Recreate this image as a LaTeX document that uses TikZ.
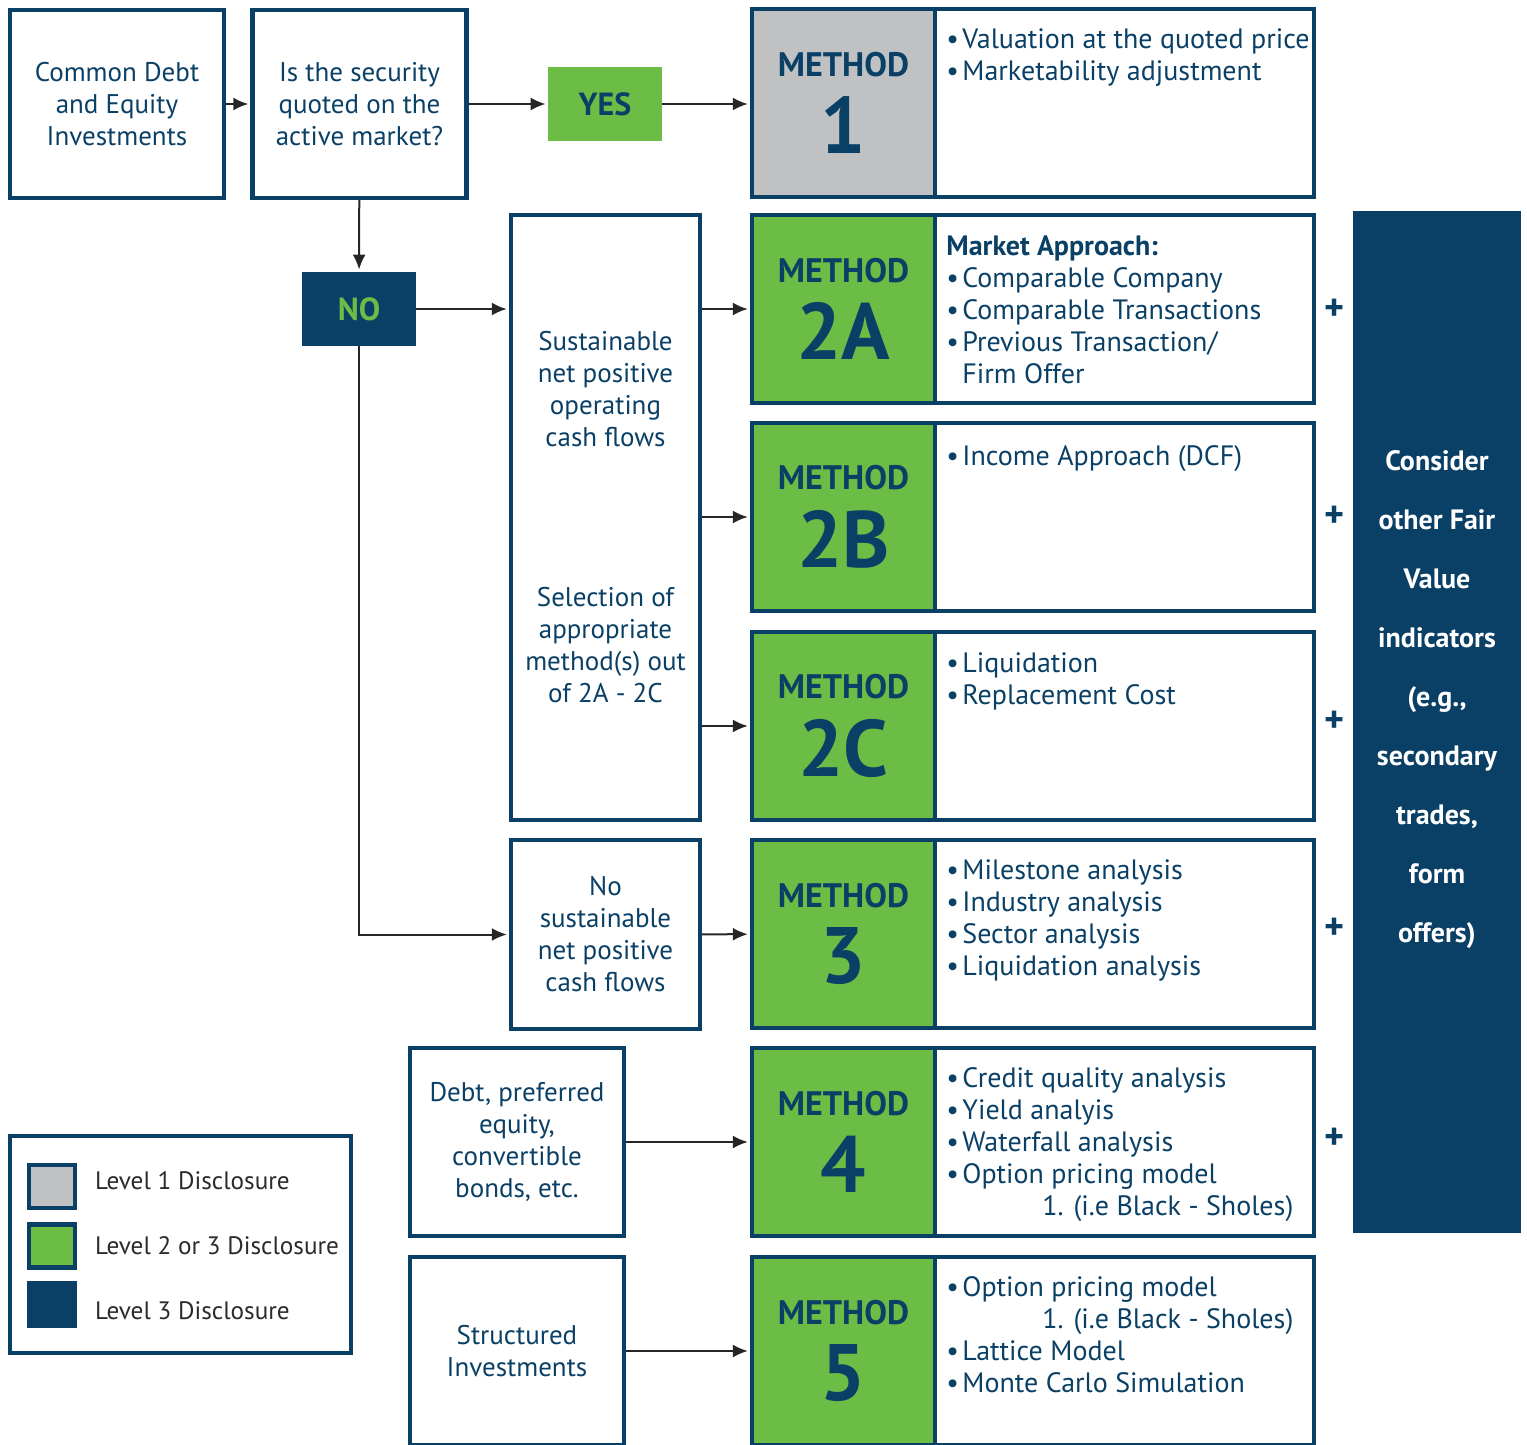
\documentclass[tikz,border=0pt]{standalone}
\usepackage{fontspec}
\setmainfont{PT Sans}
\usepackage{tikz}
\usetikzlibrary{arrows.meta}
\definecolor{navy}{HTML}{0B4066}
\definecolor{lgreen}{HTML}{6CBD45}
\definecolor{lgray}{HTML}{C0C1C3}
\definecolor{ink}{HTML}{2B2B2B}
\tikzstyle{frame}=[rectangle, draw=navy, line width=2.2pt, fill=white, inner sep=0pt, text=navy, align=center, minimum width=107pt, minimum height=94pt, font=\fontsize{13.5}{16}\selectfont]
\tikzstyle{method}=[rectangle, draw=navy, line width=2.2pt, inner sep=0pt, minimum width=91.5pt, minimum height=94pt, align=center, text=navy, font=\bfseries\fontsize{17}{20}\selectfont]
\tikzstyle{descbox}=[rectangle, draw=navy, line width=2.2pt, fill=white, minimum width=189.5pt, minimum height=94pt]
\tikzstyle{desc}=[anchor=north west, align=left, inner sep=0pt, text=navy, font=\fontsize{14}{16}\selectfont, execute at begin node=\strut]
\tikzstyle{tag}=[rectangle, minimum width=57pt, minimum height=37pt, font=\bfseries\fontsize{16}{18}\selectfont]
\tikzstyle{plus}=[text=navy, font=\bfseries\fontsize{19}{20}\selectfont]
\tikzstyle{swatch}=[rectangle, draw=navy, line width=2.2pt, minimum width=23pt, minimum height=21.5pt, inner sep=0pt]
\tikzstyle{legtext}=[anchor=west, text=ink, font=\fontsize{12.6}{16}\selectfont]
\tikzstyle{arr}=[-{Latex[length=7.5pt,width=6.5pt]}, line width=1pt, black!85, shorten >=1pt]
\newcommand{\bl}{\makebox[8pt][l]{•}}
\newcommand{\bignum}[1]{{\fontsize{40}{40}\selectfont #1}}

\begin{document}
\begin{tikzpicture}[x=0.5pt, y=-0.5pt]
    \path[use as bounding box] (0,0) rectangle (1527,1445);
    \clip (0,0) rectangle (1527,1445);
    \node[frame] (common) at (117, 104) {Common Debt\\and Equity\\Investments};
    \node[frame] (question) at (359.5, 104) {Is the security\\quoted on the\\active market?};
    \node[tag, fill=lgreen, text=navy] (yes) at (605, 104) {YES};
    \node[tag, fill=navy, text=lgreen] (no) at (359, 309) {NO};
    \node[frame, minimum width=94.5pt, minimum height=302.5pt] (sust) at (605.5, 517.5) {Sustainable\\net positive\\operating\\cash flows\\[64pt]Selection of\\appropriate\\method(s) out\\of 2A - 2C};
    \node[frame, minimum width=94.5pt, minimum height=94.5pt] (nosust) at (605.5, 934.5) {No\\sustainable\\net positive\\cash flows};
    \node[frame] (debt) at (517, 1142) {Debt, preferred\\equity,\\convertible\\bonds, etc.};
    \node[frame] (struct) at (517, 1351) {Structured\\Investments};

    \node[descbox] (d1)  at (1124.5, 103) {};
    \node[descbox] (d2a) at (1124.5, 309) {};
    \node[descbox] (d2b) at (1124.5, 517) {};
    \node[descbox] (d2c) at (1124.5, 726) {};
    \node[descbox] (d3)  at (1124.5, 934) {};
    \node[descbox] (d4)  at (1124.5, 1142) {};
    \node[descbox] (d5)  at (1124.5, 1351) {};
    \node[method, fill=lgray]  (m1)  at (843.5, 103)  {METHOD\\[9pt]\bignum{1}};
    \node[method, fill=lgreen] (m2a) at (843.5, 309)  {METHOD\\[9pt]\bignum{2A}};
    \node[method, fill=lgreen] (m2b) at (843.5, 517)  {METHOD\\[9pt]\bignum{2B}};
    \node[method, fill=lgreen] (m2c) at (843.5, 726)  {METHOD\\[9pt]\bignum{2C}};
    \node[method, fill=lgreen] (m3)  at (843.5, 934)  {METHOD\\[9pt]\bignum{3}};
    \node[method, fill=lgreen] (m4)  at (843.5, 1142) {METHOD\\[9pt]\bignum{4}};
    \node[method, fill=lgreen] (m5)  at (843.5, 1351) {METHOD\\[9pt]\bignum{5}};

    \node[desc] (t1)  at (946, 28.6)   {\bl Valuation at the quoted price\\\bl Marketability adjustment};
    \node[desc] (t2a) at (946, 235.6)  {\textbf{Market Approach:}\\\bl Comparable Company\\\bl Comparable Transactions\\\bl Previous Transaction/\\\hspace*{8pt}Firm Offer};
    \node[desc] (t2b) at (946, 442.6)  {\bl Income Approach (DCF)};
    \node[desc] (t2c) at (946, 652.6)  {\bl Liquidation\\\bl Replacement Cost};
    \node[desc] (t3)  at (946, 859.6)  {\bl Milestone analysis\\\bl Industry analysis\\\bl Sector analysis\\\bl Liquidation analysis};
    \node[desc] (t4)  at (946, 1067.6) {\bl Credit quality analysis\\\bl Yield analyis\\\bl Waterfall analysis\\\bl Option pricing model\\\hspace*{48pt}1. (i.e Black - Sholes)};
    \node[desc] (t5)  at (946, 1276.6) {\bl Option pricing model\\\hspace*{48pt}1. (i.e Black - Sholes)\\\bl Lattice Model\\\bl Monte Carlo Simulation};

    \node[plus] (p2a) at (1334, 310)  {+};
    \node[plus] (p2b) at (1334, 517)  {+};
    \node[plus] (p2c) at (1334, 722)  {+};
    \node[plus] (p3)  at (1334, 929)  {+};
    \node[plus] (p4)  at (1334, 1139) {+};

    \node[rectangle, fill=navy, minimum width=84pt, minimum height=511pt] (other) at (1437, 722) {};
    \node[text=white, align=center, font=\bfseries\fontsize{14}{29.5}\selectfont] (othertxt) at (1437, 700) {Consider\\other Fair\\Value\\indicators\\(e.g.,\\secondary\\trades,\\form\\offers)};

    \node[frame, minimum width=170.5pt, minimum height=108.5pt] (legend) at (180.5, 1244.5) {};
    \node[swatch, fill=lgray] (s1) at (52, 1186.5) {};
    \node[swatch, fill=lgreen] (s2) at (52, 1246) {};
    \node[rectangle, fill=navy, minimum width=25pt, minimum height=23.5pt] (s3) at (52, 1304.5) {};
    \node[legtext] (l1) at (88, 1181) {Level 1 Disclosure};
    \node[legtext] (l2) at (88, 1246) {Level 2 or 3 Disclosure};
    \node[legtext] (l3) at (88, 1311) {Level 3 Disclosure};

    \draw[arr] (common) -- (question);
    \draw[arr] (question) -- (yes);
    \draw[arr] (yes.east) -- (yes.east -| m1.west);
    \draw[arr] (question) -- (no);
    \draw[arr] (no.east) -- (no.east -| sust.west);
    \draw[arr] (no) |- (nosust);
    \draw[arr] (sust.east |- m2a) -- (m2a);
    \draw[arr] (sust.east |- m2b) -- (m2b);
    \draw[arr] (sust.east |- m2c) -- (m2c);
    \draw[arr] (nosust) -- (m3);
    \draw[arr] (debt) -- (m4);
    \draw[arr] (struct) -- (m5);
\end{tikzpicture}
\end{document}
